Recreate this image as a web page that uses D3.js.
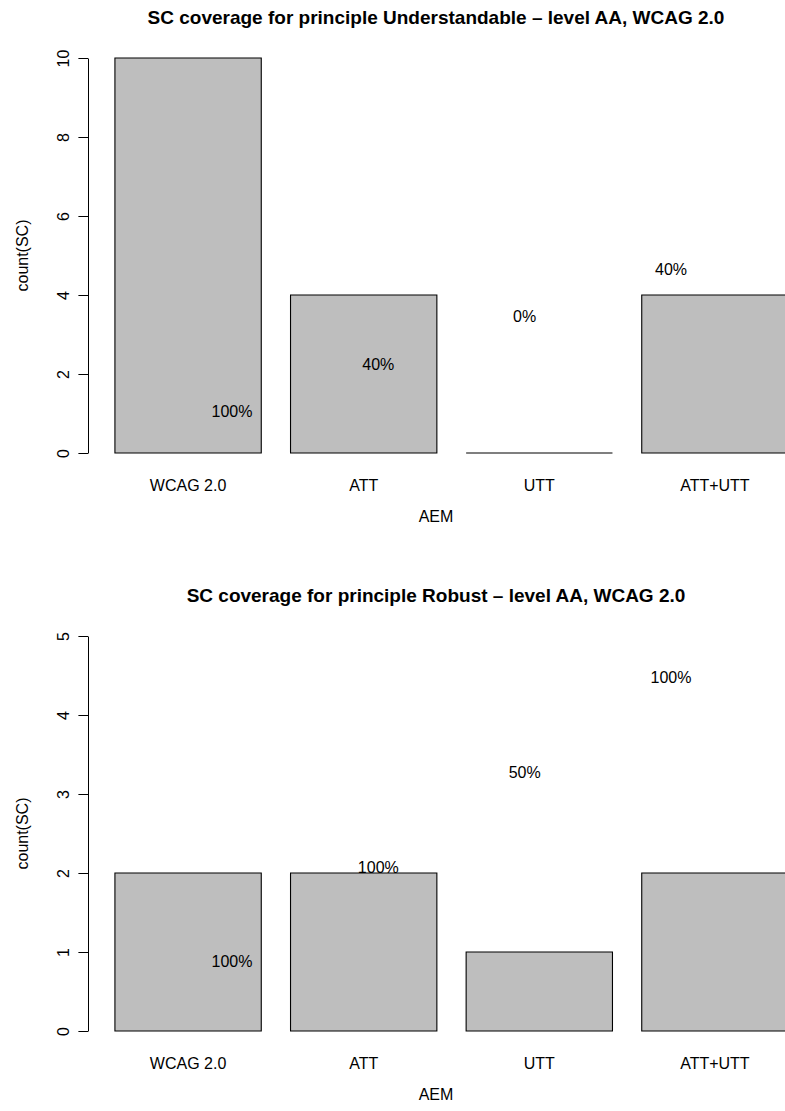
<!DOCTYPE html>
<html>
<head>
<meta charset="utf-8">
<script src="https://cdn.jsdelivr.net/npm/d3@7"></script>
<style>
  html, body { margin: 0; padding: 0; background: #fff; }
  svg { display: block; }
  text { font-family: "Liberation Sans", Helvetica, Arial, sans-serif; fill: #000; }
</style>
</head>
<body>
<script>
// Assessment methods compared in both panels
const categories = ["WCAG 2.0", "ATT", "UTT", "ATT+UTT"];

// Principle "Understandable", level AA
const understandableTitle = "SC coverage for principle Understandable \u2013 level AA, WCAG 2.0";
const understandableCounts = [10, 4, 0, 4];
const understandableShares = ["100%", "40%", "0%", "40%"];
const understandableTicks = [0, 2, 4, 6, 8, 10];

// Principle "Robust", level AA
const robustTitle = "SC coverage for principle Robust \u2013 level AA, WCAG 2.0";
const robustCounts = [2, 2, 1, 2];
const robustShares = ["100%", "100%", "50%", "100%"];
const robustTicks = [0, 1, 2, 3, 4, 5];

const xLabel = "AEM";
const yLabel = "count(SC)";

const W = 785, H = 1111;
const LINE = 19.2;          // one margin line
const FONT = 16;            // base text size
const PLOT_LEFT = 88, PLOT_RIGHT = 784;
const svg = d3.select("body").append("svg").attr("width", W).attr("height", H);

// Barplot user coordinates: bar i spans [0.2 + 1.2 i, 1.2 + 1.2 i]
const SPACE = 0.2;
const n = categories.length;
const uMin = SPACE, uMax = n * (1 + SPACE);
const ext = (uMax - uMin) * 0.04;
const xUser = d3.scaleLinear().domain([uMin - ext, uMax + ext]).range([88, 815]);

const xBand = d3.scaleBand()
  .domain(categories)
  .range([xUser(uMin), xUser(uMax)])
  .paddingInner(SPACE / (1 + SPACE))
  .paddingOuter(0)
  .align(0);

function panel(offsetY, title, counts, shares, ticks) {
  const g = svg.append("g").attr("transform", `translate(0,${offsetY})`);
  const y = d3.scaleLinear().domain([0, d3.max(ticks)]).range([453, 58]);
  const cx = (PLOT_LEFT + PLOT_RIGHT) / 2;

  // bars (drawn as paths so a zero-height bar still shows its outline)
  g.selectAll("path.bar")
    .data(categories.map((c, i) => ({ c, v: counts[i] })))
    .join("path")
    .attr("class", "bar")
    .attr("d", d => {
      const x0 = xBand(d.c), w = xBand.bandwidth(), y0 = y(0), y1 = y(d.v);
      return `M${x0},${y0}H${x0 + w}V${y1}H${x0}Z`;
    })
    .attr("fill", "#bebebe")
    .attr("stroke", "#000")
    .attr("stroke-width", 1.1);

  // y axis with labels parallel to the axis
  const axis = d3.axisLeft(y).tickValues(ticks).tickSize(LINE / 2).tickSizeOuter(0).tickPadding(0)
    .tickFormat(d3.format("d"));
  const ag = g.append("g").attr("transform", `translate(${PLOT_LEFT},0)`).call(axis);
  ag.select(".domain").attr("stroke", "#000").attr("stroke-width", 1);
  ag.selectAll(".tick line").attr("stroke", "#000").attr("stroke-width", 1);
  ag.selectAll(".tick text")
    .attr("x", null).attr("dy", null)
    .attr("transform", `translate(${-LINE},0) rotate(-90)`)
    .attr("text-anchor", "middle")
    .attr("font-size", FONT)
    .style("font-family", '"Liberation Sans", Helvetica, Arial, sans-serif')
    .attr("fill", "#000");

  // category labels
  g.selectAll("text.cat")
    .data(categories)
    .join("text")
    .attr("class", "cat")
    .attr("x", d => xBand(d) + xBand.bandwidth() / 2)
    .attr("y", 491)
    .attr("text-anchor", "middle")
    .attr("font-size", FONT)
    .text(d => d);

  // share labels placed above the point (i + 1, bar midpoint)
  g.selectAll("text.share")
    .data(shares)
    .join("text")
    .attr("class", "share")
    .attr("x", (d, i) => xUser(i + 1))
    .attr("y", (d, i) => y(uMin + 0.5 + i * (1 + SPACE)) - 8.3)
    .attr("text-anchor", "middle")
    .attr("font-size", FONT)
    .text(d => d);

  // titles
  g.append("text")
    .attr("x", cx).attr("y", 24)
    .attr("text-anchor", "middle")
    .attr("font-size", 19)
    .attr("font-weight", "bold")
    .text(title);

  g.append("text")
    .attr("x", cx).attr("y", 522)
    .attr("text-anchor", "middle")
    .attr("font-size", FONT)
    .text(xLabel);

  g.append("text")
    .attr("transform", `translate(${PLOT_LEFT - 3 * LINE - 2},${(y(0) + y(d3.max(ticks))) / 2}) rotate(-90)`)
    .attr("text-anchor", "middle")
    .attr("font-size", FONT)
    .text(yLabel);
}

panel(0, understandableTitle, understandableCounts, understandableShares, understandableTicks);
panel(578, robustTitle, robustCounts, robustShares, robustTicks);
</script>
</body>
</html>
